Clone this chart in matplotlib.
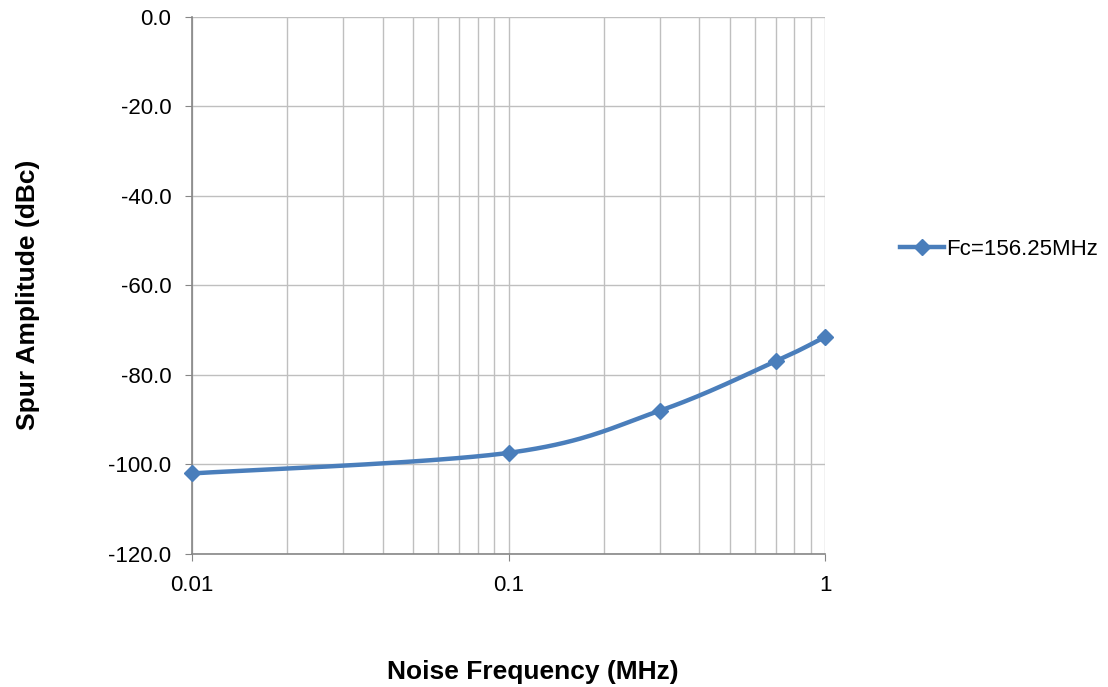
import numpy as np
import matplotlib
matplotlib.use('Agg')
import matplotlib.pyplot as plt
from matplotlib.ticker import FixedLocator, LogLocator, NullFormatter

plt.rcParams['font.family'] = ['Liberation Sans', 'DejaVu Sans']

# 数据
freq_mhz = [0.01, 0.1, 0.3, 0.7, 1.0]
spur_dbc = [-102.0, -97.4, -88.0, -76.9, -71.5]
series_name = 'Fc=156.25MHz'
y_ticks = [0, -20, -40, -60, -80, -100, -120]

line_color = '#4A7EBB'
grid_color = '#BFBFBF'
axis_color = '#868686'


def smooth_curve(xs, ys, n=40):
    """Excel 式平滑线: 在对数x/像素比例空间做 Catmull-Rom"""
    u = (np.log10(xs) + 2) / 2 * 633.0
    v = np.asarray(ys) * 4.475
    pts = np.column_stack([u, v])
    pts = np.vstack([pts[0], pts, pts[-1]])
    out = []
    for i in range(1, len(pts) - 2):
        p0, p1, p2, p3 = pts[i - 1], pts[i], pts[i + 1], pts[i + 2]
        t = np.linspace(0, 1, n)[:, None]
        seg = 0.5 * ((2 * p1) + (-p0 + p2) * t + (2 * p0 - 5 * p1 + 4 * p2 - p3) * t ** 2
                     + (-p0 + 3 * p1 - 3 * p2 + p3) * t ** 3)
        out.append(seg)
    out = np.vstack(out)
    return 10 ** (out[:, 0] / 633.0 * 2 - 2), out[:, 1] / 4.475


fig = plt.figure(figsize=(11.08, 6.87), dpi=100)
ax = fig.add_axes([0.1733, 0.1936, 0.5713, 0.7817])

sx, sy = smooth_curve(freq_mhz, spur_dbc)
ax.plot(sx, sy, color=line_color, linewidth=3.2, solid_capstyle='round', zorder=3,
        clip_on=False)
ax.plot(freq_mhz, spur_dbc, linestyle='none', marker='D', markersize=8.5,
        color=line_color, zorder=4, clip_on=False)

ax.set_xscale('log')
ax.set_xlim(0.01, 1)
ax.set_ylim(-120, 0)
ax.yaxis.set_major_locator(FixedLocator(y_ticks))
ax.set_yticklabels([f'{v:.1f}' for v in y_ticks])
ax.xaxis.set_major_locator(FixedLocator([0.01, 0.1, 1]))
ax.set_xticklabels(['0.01', '0.1', '1'])
ax.xaxis.set_minor_locator(LogLocator(base=10, subs=np.arange(2, 10)))
ax.xaxis.set_minor_formatter(NullFormatter())

ax.grid(True, which='both', axis='x', color=grid_color, linewidth=1)
ax.grid(True, which='major', axis='y', color=grid_color, linewidth=1)
ax.set_axisbelow(True)

for side in ['top', 'right']:
    ax.spines[side].set_visible(False)
for side in ['left', 'bottom']:
    ax.spines[side].set_color(axis_color)
    ax.spines[side].set_linewidth(1.2)

ax.tick_params(axis='both', which='major', direction='out', length=5, color=axis_color,
               labelsize=16, pad=10)
ax.tick_params(axis='x', which='minor', length=0)
ax.tick_params(axis='x', which='major', pad=10)

fig.text(0.481, 1 - 672 / 687, 'Noise Frequency (MHz)', ha='center', va='center',
         fontsize=19, fontweight='bold')
fig.text(0.025, 0.571, 'Spur Amplitude (dBc)', ha='center', va='center',
         rotation=90, fontsize=19, fontweight='bold')

ax.legend([plt.Line2D([], [], color=line_color, linewidth=3.2, marker='D', markersize=8.5)],
          [series_name], loc='center left', bbox_to_anchor=(0.812, 1 - 249 / 687),
          bbox_transform=fig.transFigure, borderaxespad=0, borderpad=0,
          frameon=False, fontsize=16, handlelength=2.0, handletextpad=0.1)

fig.savefig('out.png', dpi=100)
